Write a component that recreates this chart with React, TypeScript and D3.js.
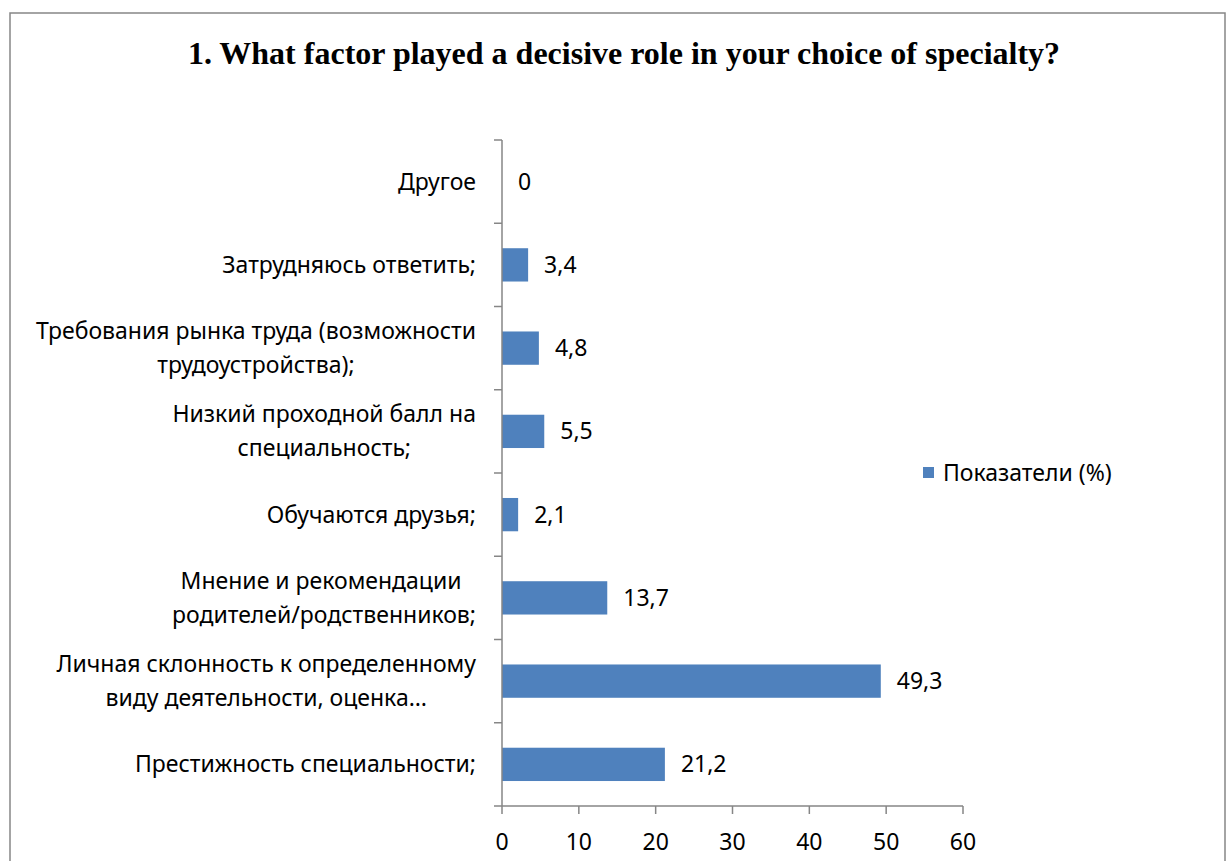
import React from "react";
import * as d3 from "d3";

const title = "1. What factor played a decisive role in your choice of specialty?";
// categories from top to bottom
const categories = [
  "Другое",
  "Затрудняюсь ответить;",
  "Требования рынка труда (возможности\nтрудоустройства);",
  "Низкий проходной балл на\nспециальность;",
  "Обучаются друзья;",
  "Мнение и рекомендации \nродителей/родственников;",
  "Личная склонность к определенному\nвиду деятельности, оценка…",
  "Престижность специальности;",
];
const values = [0, 3.4, 4.8, 5.5, 2.1, 13.7, 49.3, 21.2];
const xTicks = [0, 10, 20, 30, 40, 50, 60];
const seriesName = "Показатели (%)";

const W = 1228;
const H = 861;
const FONT = "'Noto Sans', 'Open Sans', sans-serif";
const FS = 23;
const AXIS = "#868686";
const BAR = "#4F81BD";

let ctx: CanvasRenderingContext2D | null = null;
function measure(s: string): number {
  if (!ctx) {
    const c = document.createElement("canvas");
    ctx = c.getContext("2d");
  }
  if (!ctx) return s.length * FS * 0.55;
  ctx.font = `${FS}px 'Noto Sans', 'Open Sans', sans-serif`;
  return ctx.measureText(s).width;
}

export default function App() {
  const x = d3.scaleLinear().domain([0, 60]).range([502, 963]);
  const y = d3.scaleBand<string>().domain(categories).range([140, 806]).padding(0);
  const bw = y.bandwidth();
  const barH = bw * 0.4;
  const fmt = (v: number) => String(v).replace(".", ",");
  const y0 = y.range()[0];
  const y1 = y.range()[1];
  const lineH = 34;
  const labelRight = 476;

  return (
    <svg
      width={W}
      height={H}
      style={{ position: "absolute", left: 0, top: 0, background: "#fff" }}
      fontFamily={FONT}
    >
      <rect x={10} y={13} width={1215} height={900} fill="#fff" stroke={AXIS} strokeWidth={1.5} />
      <text
        x={624}
        y={64}
        textAnchor="middle"
        fontFamily="'Liberation Serif', 'Times New Roman', serif"
        fontWeight="bold"
        fontSize={32}
        fill="#000"
      >
        {title}
      </text>

      {/* bars */}
      {categories.map((c, i) => {
        const cy = (y(c) as number) + bw / 2;
        const lines = c.split("\n");
        const widths = lines.map(measure);
        const maxW = Math.max(...widths);
        const center = labelRight - maxW / 2;
        const start = cy - ((lines.length - 1) * lineH) / 2;
        return (
          <g key={c}>
            {values[i] > 0 && (
              <rect x={x(0)} y={cy - barH / 2} width={x(values[i]) - x(0)} height={barH} fill={BAR} />
            )}
            <text x={x(values[i]) + 16} y={cy} dy="0.35em" fontSize={FS} fill="#000">
              {fmt(values[i])}
            </text>
            {lines.map((ln, k) => (
              <text
                key={k}
                x={center - widths[k] / 2}
                y={start + k * lineH}
                dy="0.35em"
                textAnchor="start"
                fontSize={FS}
                fill="#000"
                style={{ whiteSpace: "pre" }}
              >
                {ln}
              </text>
            ))}
          </g>
        );
      })}

      {/* y axis */}
      <line x1={x(0)} x2={x(0)} y1={y0} y2={y1} stroke={AXIS} strokeWidth={1.5} />
      {d3.range(categories.length + 1).map((k) => {
        const yy = y0 + k * bw;
        return <line key={k} x1={x(0) - 8} x2={x(0)} y1={yy} y2={yy} stroke={AXIS} strokeWidth={1.5} />;
      })}

      {/* x axis */}
      <line x1={x(0)} x2={x(60)} y1={y1} y2={y1} stroke={AXIS} strokeWidth={1.5} />
      {xTicks.map((t) => (
        <g key={t}>
          <line x1={x(t)} x2={x(t)} y1={y1} y2={y1 + 8} stroke={AXIS} strokeWidth={1.5} />
          <text x={x(t)} y={842} dy="0.35em" textAnchor="middle" fontSize={FS} fill="#000">
            {t}
          </text>
        </g>
      ))}

      {/* legend */}
      <rect x={923} y={467} width={11} height={11} fill={BAR} />
      <text x={943} y={473} dy="0.35em" fontSize={FS} fill="#000">
        {seriesName}
      </text>
    </svg>
  );
}
